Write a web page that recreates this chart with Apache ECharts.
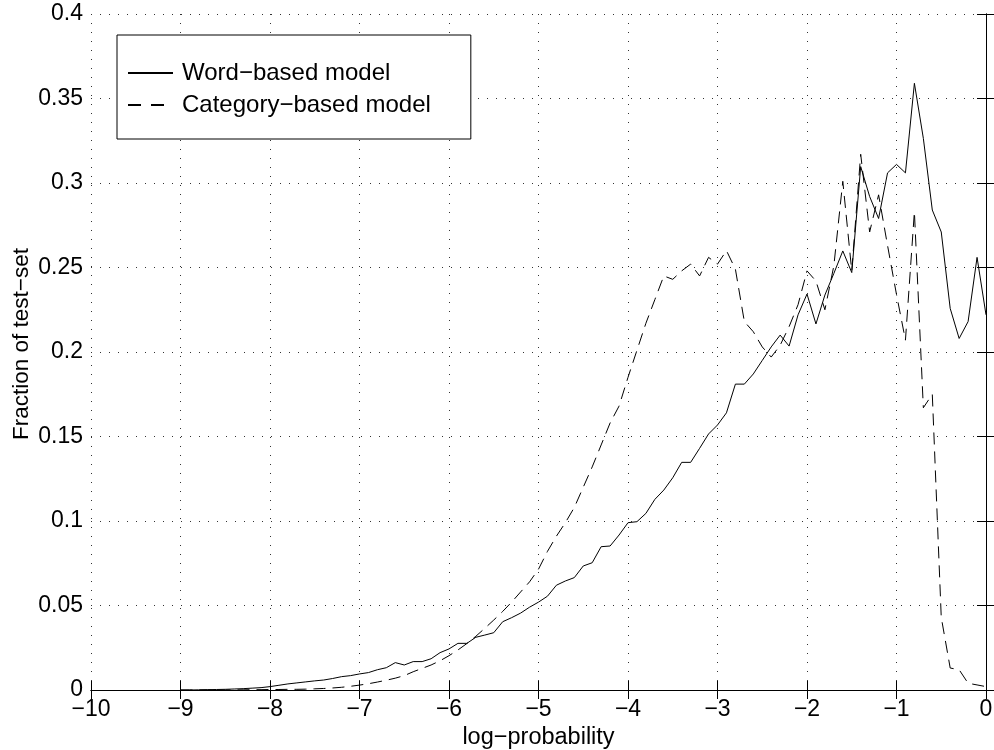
<!DOCTYPE html>
<html>
<head>
<meta charset="utf-8">
<script src="https://cdn.jsdelivr.net/npm/echarts@6/dist/echarts.min.js"></script>
<style>
  html, body { margin: 0; padding: 0; background: #fff; }
  #chart { width: 994px; height: 750px; }
</style>
</head>
<body>
<div id="chart"></div>
<script>
// log-probability bins (x)
const logProb = [
  -9.0, -8.9, -8.8, -8.7, -8.6, -8.5, -8.4, -8.3, -8.2, -8.1,
  -8.0, -7.9, -7.8, -7.7, -7.6, -7.5, -7.4, -7.3, -7.2, -7.1,
  -7.0, -6.9, -6.8, -6.7, -6.6, -6.5, -6.4, -6.3, -6.2, -6.1,
  -6.0, -5.9, -5.8, -5.7, -5.6, -5.5, -5.4, -5.3, -5.2, -5.1,
  -5.0, -4.9, -4.8, -4.7, -4.6, -4.5, -4.4, -4.3, -4.2, -4.1,
  -4.0, -3.9, -3.8, -3.7, -3.6, -3.5, -3.4, -3.3, -3.2, -3.1,
  -3.0, -2.9, -2.8, -2.7, -2.6, -2.5, -2.4, -2.3, -2.2, -2.1,
  -2.0, -1.9, -1.8, -1.7, -1.6, -1.5, -1.4, -1.3, -1.2, -1.1,
  -1.0, -0.9, -0.8, -0.7, -0.6, -0.5, -0.4, -0.3, -0.2, -0.1,
  0.0
];
// fraction of test-set, word-based model (solid)
const wordFrac = [
  0, 0, 0.0001, 0.0002, 0.0003, 0.0004, 0.0006, 0.0008, 0.0011, 0.0014,
  0.0020, 0.0028, 0.0036, 0.0042, 0.0048, 0.0054, 0.0059, 0.0068, 0.0079, 0.0085,
  0.0095, 0.0103, 0.0120, 0.0132, 0.0162, 0.0148, 0.0168, 0.0168, 0.0185, 0.0221,
  0.0243, 0.0276, 0.0276, 0.0312, 0.0325, 0.0339, 0.0404, 0.0428, 0.0455, 0.0490,
  0.0520, 0.0555, 0.0620, 0.0645, 0.0665, 0.0734, 0.0753, 0.0848, 0.0852, 0.0917,
  0.0990, 0.0996, 0.1045, 0.1128, 0.1183, 0.1256, 0.1347, 0.1347, 0.1430, 0.1515,
  0.1568, 0.1640, 0.1810, 0.1810, 0.1870, 0.1950, 0.2030, 0.2100, 0.2035, 0.2220,
  0.2343, 0.2166, 0.2337, 0.2465, 0.2598, 0.2470, 0.3097, 0.2920, 0.2790, 0.3060,
  0.3110, 0.3060, 0.3590, 0.3264, 0.2840, 0.2710, 0.2258, 0.2080, 0.2180, 0.2560,
  0.2220
];
// fraction of test-set, category-based model (dashed)
const categoryFrac = [
  0, 0, 0, 0, 0, 0, 0.0001, 0.0001, 0.0002, 0.0002,
  0.0003, 0.0003, 0.0004, 0.0004, 0.0005, 0.0007, 0.0009, 0.0012, 0.0016, 0.0022,
  0.0029, 0.0037, 0.0047, 0.0058, 0.0070, 0.0085, 0.0108, 0.0128, 0.0148, 0.0173,
  0.0203, 0.0237, 0.0275, 0.0318, 0.0365, 0.0414, 0.0465, 0.0520, 0.0580, 0.0640,
  0.0715, 0.0820, 0.0910, 0.0990, 0.1080, 0.1200, 0.1320, 0.1450, 0.1580, 0.1680,
  0.1850, 0.2010, 0.2170, 0.2310, 0.2450, 0.2430, 0.2480, 0.2520, 0.2450, 0.2560,
  0.2520, 0.2600, 0.2490, 0.2180, 0.2120, 0.2030, 0.1970, 0.2040, 0.2150, 0.2280,
  0.2480, 0.2420, 0.2250, 0.2510, 0.3010, 0.2480, 0.3170, 0.2710, 0.2930, 0.2630,
  0.2340, 0.2070, 0.2830, 0.1670, 0.1750, 0.0430, 0.0130, 0.0120, 0.0040, 0.0030,
  0.0020
];
const seriesNames = ['Word\u2212based model', 'Category\u2212based model'];

const FONT = "'Liberation Sans', Arial, Helvetica, sans-serif";
const minus = (v) => String(v).replace('-', '\u2212');

const chart = echarts.init(document.getElementById('chart'), null, { renderer: 'canvas' });

const gridLine = { show: true, lineStyle: { color: '#333', width: 1, type: [1, 8] } };
const axisLineBlack = { show: true, lineStyle: { color: '#000', width: 1 } };
const tickIn = { show: true, inside: true, length: 9, lineStyle: { color: '#000' } };

const option = {
  backgroundColor: '#fff',
  animation: false,
  textStyle: { fontFamily: FONT },
  grid: { left: 91, top: 14, width: 895, height: 676, outerBoundsMode: 'none', containLabel: false },
  legend: {
    left: 117,
    top: 35,
    orient: 'vertical',
    data: [
      { name: seriesNames[0] },
      { name: seriesNames[1], lineStyle: { type: [13, 10] } },
    ],
    itemWidth: 45,
    itemHeight: 14,
    itemGap: 8,
    padding: [26, 40, 22, 10],
    borderColor: '#000',
    borderWidth: 1,
    backgroundColor: '#fff',
    itemStyle: { opacity: 0 },
    textStyle: { fontFamily: FONT, fontSize: 24, color: '#000', padding: [0, 0, 0, 4] },
  },
  graphic: [
    {
      type: 'text',
      x: 22,
      y: 344,
      rotation: Math.PI / 2,
      style: {
        text: 'Fraction of test\u2212set',
        fontFamily: FONT,
        fontSize: 22.5,
        fill: '#000',
        align: 'center',
        verticalAlign: 'middle',
      },
    },
  ],
  xAxis: [
    {
      type: 'value',
      min: -10,
      max: 0,
      interval: 1,
      position: 'bottom',
      name: 'log\u2212probability',
      nameLocation: 'middle',
      nameGap: 28,
      nameTextStyle: { fontFamily: FONT, fontSize: 23.5, color: '#000' },
      axisLine: axisLineBlack,
      axisTick: tickIn,
      axisLabel: { fontFamily: FONT, fontSize: 23, color: '#000', margin: 8, formatter: minus },
      splitLine: gridLine,
    },
    {
      type: 'value',
      min: -10,
      max: 0,
      interval: 1,
      position: 'top',
      axisLine: axisLineBlack,
      axisTick: tickIn,
      axisLabel: { show: false },
      splitLine: { show: false },
    },
  ],
  yAxis: [
    {
      type: 'value',
      min: 0,
      max: 0.4,
      interval: 0.05,
      position: 'left',
      axisLine: axisLineBlack,
      axisTick: tickIn,
      axisLabel: { fontFamily: FONT, fontSize: 23, color: '#000', margin: 8 },
      splitLine: gridLine,
    },
    {
      type: 'value',
      min: 0,
      max: 0.4,
      interval: 0.05,
      position: 'right',
      axisLine: axisLineBlack,
      axisTick: tickIn,
      axisLabel: { show: false },
      splitLine: { show: false },
    },
  ],
  series: [
    {
      name: seriesNames[0],
      type: 'line',
      symbol: 'none',
      lineStyle: { color: '#000', width: 1 },
      itemStyle: { color: '#000' },
      data: logProb.map((x, i) => [x, wordFrac[i]]),
    },
    {
      name: seriesNames[1],
      type: 'line',
      symbol: 'none',
      lineStyle: { color: '#000', width: 1, type: [12, 7] },
      itemStyle: { color: '#000' },
      data: logProb.map((x, i) => [x, categoryFrac[i]]),
    },
  ],
};

chart.setOption(option);
</script>
</body>
</html>
